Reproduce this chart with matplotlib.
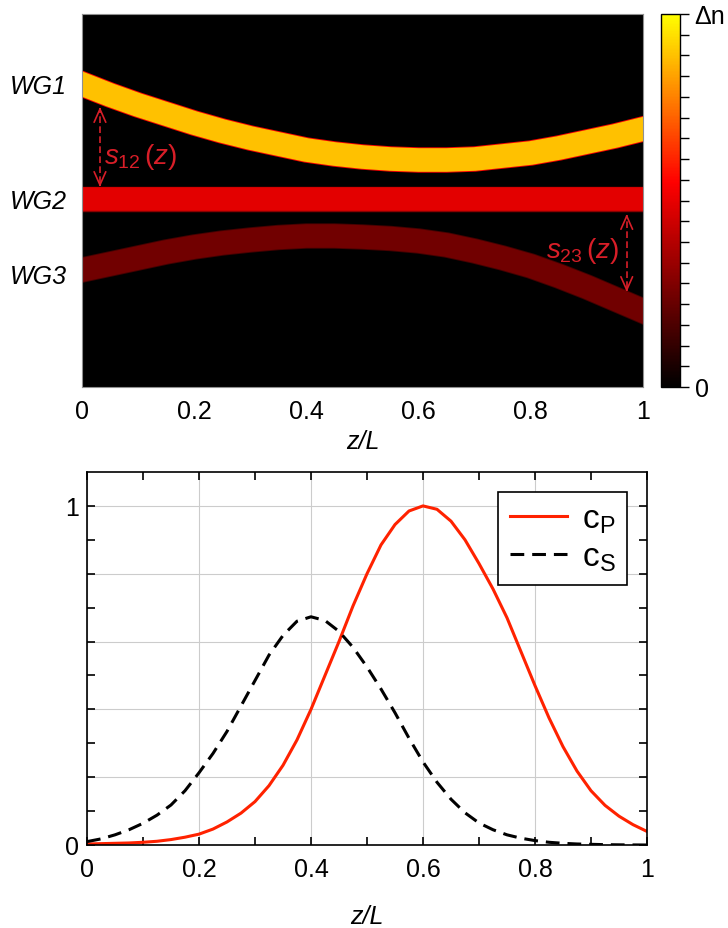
import numpy as np
import matplotlib
matplotlib.use("Agg")
import matplotlib.pyplot as plt
from matplotlib.colors import LinearSegmentedColormap, Normalize
from matplotlib.cm import ScalarMappable

plt.rcParams['font.family'] = ['Liberation Sans', 'DejaVu Sans']
plt.rcParams['mathtext.fontset'] = 'custom'
plt.rcParams['mathtext.rm'] = 'Liberation Sans'
plt.rcParams['mathtext.it'] = 'Liberation Sans:italic'

# waveguide centres (offset from WG2) along z/L
z_wg = [0.0, 0.05, 0.1, 0.15, 0.2, 0.25, 0.3, 0.35, 0.4, 0.45, 0.5,
        0.55, 0.6, 0.65, 0.7, 0.75, 0.8, 0.85, 0.9, 0.95, 1.0]
wg1_y = [115, 104, 94, 85, 76, 68, 61, 55, 49, 45, 42,
         40, 39, 39, 40, 43, 46, 51, 57, 63, 70]
wg2_y = [0] * 21
wg3_y = [-71, -65, -59, -53, -48, -44, -41, -38.5, -37, -37, -38,
         -39.5, -42, -46, -52, -59, -67, -77, -88, -100, -112]
wg_names = ['WG1', 'WG2', 'WG3']
wg_dn = [0.89, 0.49, 0.245]   # relative index contrast, colour scale 0..1

# coupling profiles
z_c = [0.0, 0.025, 0.05, 0.075, 0.1, 0.125, 0.15, 0.175, 0.2, 0.225,
       0.25, 0.275, 0.3, 0.325, 0.35, 0.375, 0.4, 0.425, 0.45, 0.475,
       0.5, 0.525, 0.55, 0.575, 0.6, 0.625, 0.65, 0.675, 0.7, 0.725,
       0.75, 0.775, 0.8, 0.825, 0.85, 0.875, 0.9, 0.925, 0.95, 0.975, 1.0]
c_p = [0.003, 0.004, 0.005, 0.006, 0.008, 0.011, 0.016, 0.023, 0.032, 0.047,
       0.068, 0.094, 0.128, 0.175, 0.235, 0.31, 0.40, 0.50, 0.60, 0.705,
       0.80, 0.885, 0.945, 0.985, 1.0, 0.99, 0.955, 0.90, 0.83, 0.755,
       0.67, 0.57, 0.47, 0.375, 0.29, 0.218, 0.16, 0.117, 0.085, 0.06, 0.04]
c_s = [0.01, 0.018, 0.03, 0.045, 0.064, 0.088, 0.118, 0.16, 0.213, 0.27,
       0.335, 0.41, 0.485, 0.56, 0.618, 0.66, 0.673, 0.662, 0.63, 0.583,
       0.525, 0.46, 0.39, 0.315, 0.245, 0.185, 0.135, 0.095, 0.065, 0.045,
       0.03, 0.02, 0.013, 0.008, 0.005, 0.003, 0.002, 0.001, 0.0005, 0.0002, 0.0]

xticks = [0, 0.2, 0.4, 0.6, 0.8, 1.0]
xticklabels = ['0', '0.2', '0.4', '0.6', '0.8', '1']

cmap = LinearSegmentedColormap.from_list('dn', [(0, 'black'), (0.55, 'red'), (1, 'yellow')])
anno_col = '#d81e28'

fig = plt.figure(figsize=(7.28, 9.29), dpi=100)

# ---- top panel: refractive index map
ax1 = fig.add_axes([82/728, 1-388/929, 561/728, 373/929])
ax1.set_facecolor('black')
for ys, dn in zip([wg1_y, wg2_y, wg3_y], wg_dn):
    ax1.plot(z_wg, ys, color=cmap(dn * 0.6), lw=18.3, solid_capstyle='projecting',
             solid_joinstyle='round')
    ax1.plot(z_wg, ys, color=cmap(dn), lw=17.0, solid_capstyle='projecting',
             solid_joinstyle='round')
ax1.set_xlim(0, 1)
ax1.set_ylim(-188, 185)
ax1.set_xticks(xticks)
ax1.set_xticklabels(xticklabels, fontsize=18)
ax1.set_yticks([wg1_y[0], wg2_y[0], wg3_y[0] - 4])
ax1.set_yticklabels(wg_names, fontsize=18, style='italic')
ax1.tick_params(length=0, pad=9)
ax1.tick_params(axis='y', pad=11)
ax1.set_xlabel('z/L', fontsize=18, style='italic', labelpad=4)
for s in ax1.spines.values():
    s.set_color('#909090')
    s.set_linewidth(0.8)

# separation arrows
def sep_arrow(ax, z, y0, y1):
    ax.plot([z, z], [y0 + 4, y1 - 4], color=anno_col, lw=1.2, ls=(0, (4, 2)))
    for tip, d in [(y1, -3), (y0, 3)]:
        ax.annotate('', xy=(z, tip), xytext=(z, tip + d),
                    arrowprops=dict(arrowstyle='->,head_length=0.95,head_width=0.42',
                                    color=anno_col, lw=1.2, shrinkA=0, shrinkB=0))

sep_arrow(ax1, 0.032, 12, 92)
ax1.text(0.04, 43, r'$\mathit{s}_{\mathit{12}}\,\mathit{(z)}$', color=anno_col,
         fontsize=20, va='center', ha='left')
sep_arrow(ax1, 0.971, -93, -15)
ax1.text(0.957, -51, r'$\mathit{s}_{\mathit{23}}\,\mathit{(z)}$', color=anno_col,
         fontsize=20, va='center', ha='right')

# colour bar
cax = fig.add_axes([661/728, 1-388/929, 19/728, 373/929])
cb = fig.colorbar(ScalarMappable(norm=Normalize(0, 1), cmap=cmap), cax=cax)
cb.set_ticks(np.linspace(0, 1, 19))
cb.set_ticklabels(['0'] + [''] * 17 + ['Δn'])
cax.tick_params(direction='out', length=6.5, width=1, pad=4, labelsize=18)
cb.outline.set_linewidth(1)
cb.outline.set_edgecolor('black')

# ---- bottom panel: couplings
ax2 = fig.add_axes([87/728, 1-846/929, 560/728, 373/929])
ax2.plot(z_c, c_p, color='#ff2200', lw=2.2, label=r'$\mathrm{c}_\mathrm{P}$')
ax2.plot(z_c, c_s, color='black', lw=2.2, ls=(0, (4.5, 2.6)), label=r'$\mathrm{c}_\mathrm{S}$')
ax2.set_xlim(0, 1)
ax2.set_ylim(0, 1.1)
ax2.set_xticks(xticks)
ax2.set_xticklabels(xticklabels, fontsize=18)
ax2.set_xticks(np.arange(0.1, 1.0, 0.2), minor=True)
ax2.set_yticks([0, 0.2, 0.4, 0.6, 0.8, 1.0])
ax2.set_yticklabels(['0', '', '', '', '', '1'], fontsize=18)
ax2.set_yticks(np.arange(0.1, 1.1, 0.2), minor=True)
ax2.tick_params(which='both', direction='in', top=True, right=True, length=6, width=1.2)
ax2.tick_params(axis='x', pad=9)
ax2.tick_params(axis='y', pad=6)
ax2.grid(True, which='major', color='#cccccc', lw=0.8)
ax2.set_axisbelow(True)
for s in ax2.spines.values():
    s.set_linewidth(1.2)
ax2.set_xlabel('z/L', fontsize=18, style='italic', labelpad=16)
leg = ax2.legend(loc='upper right', fontsize=24, frameon=True, fancybox=False,
                 framealpha=1, edgecolor='black', handlelength=1.7,
                 borderaxespad=0.6, borderpad=0.35, labelspacing=0.2,
                 handletextpad=0.45)
leg.get_frame().set_linewidth(1.2)

fig.savefig('out.png', dpi=100)
